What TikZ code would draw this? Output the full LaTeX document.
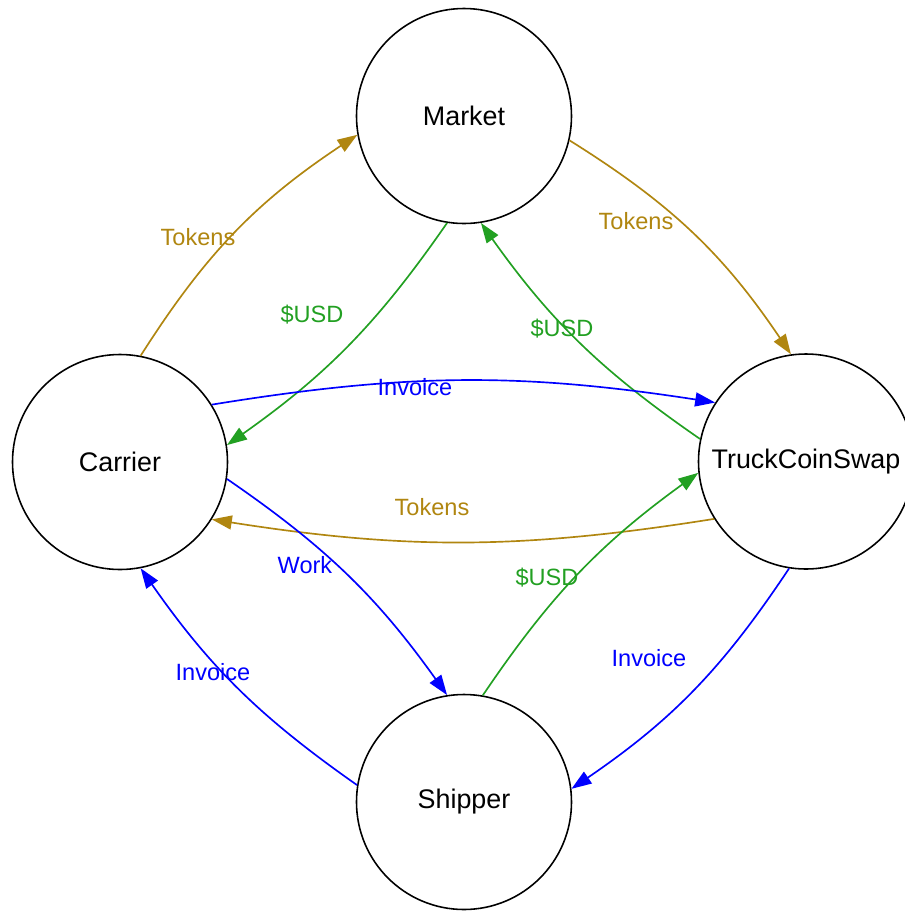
\documentclass[tikz,border=0pt]{standalone}
\usepackage{fontspec}
\setmainfont{Liberation Sans}
\usetikzlibrary{arrows.meta}
\definecolor{tokgold}{RGB}{176,134,16}
\definecolor{usdgreen}{RGB}{34,160,34}
\begin{document}
\begin{tikzpicture}[>={Triangle[length=0.4cm,width=0.28cm]}]
  \tikzstyle{party}=[draw=black, circle, line width=0.9pt, minimum size=4.3cm,
    inner sep=0pt, font=\fontsize{15.3}{18}\selectfont]
  \tikzstyle{flow}=[->, line width=0.95pt]
  \tikzstyle{lbl}=[font=\fontsize{13.4}{16}\selectfont, inner sep=1pt]
  \useasboundingbox (0,0) rectangle (18.1,-18.26);

  %the four parties
  \node[party] (market) at (9.28,-2.32) {Market};
  \node[party] (carrier) at (2.40,-9.24) {Carrier};
  \node[party] (swap) at (16.12,-9.23) {TruckCoinSwap};
  \node[party] (shipper) at (9.28,-16.04) {Shipper};

  %tokens
  \draw[flow, tokgold] (carrier.79) to[bend left=12] (market.190);
  \draw[flow, tokgold] (market.347) to[bend left=12] (swap.98);
  \draw[flow, tokgold] (swap.212) to[bend left=9] (carrier.328);
  \node[lbl, text=tokgold] (tokA) at (3.96,-4.74) {Tokens};
  \node[lbl, text=tokgold] (tokB) at (12.72,-4.42) {Tokens};
  \node[lbl, text=tokgold] (tokC) at (8.64,-10.14) {Tokens};

  %dollars
  \draw[flow, usdgreen] (market.261) to[bend left=10] (carrier.9);
  \draw[flow, usdgreen] (swap.168) to[bend left=10] (market.279);
  \draw[flow, usdgreen] (shipper.80) to[bend left=10] (swap.186);
  \node[lbl, text=usdgreen] (usdA) at (6.24,-6.30) {\$USD};
  \node[lbl, text=usdgreen] (usdB) at (11.24,-6.58) {\$USD};
  \node[lbl, text=usdgreen] (usdC) at (10.94,-11.56) {\$USD};

  %invoices and work
  \draw[flow, blue] (carrier.32) to[bend left=9] (swap.147);
  \draw[flow, blue] (carrier.351) to[bend left=10] (shipper.99);
  \draw[flow, blue] (shipper.171) to[bend left=10] (carrier.281);
  \draw[flow, blue] (swap.261) to[bend left=11] (shipper.7);
  \node[lbl, text=blue] (invA) at (8.30,-7.74) {Invoice};
  \node[lbl, text=blue] (work) at (6.10,-11.30) {Work};
  \node[lbl, text=blue] (invB) at (4.26,-13.44) {Invoice};
  \node[lbl, text=blue] (invC) at (12.98,-13.16) {Invoice};
\end{tikzpicture}
\end{document}
